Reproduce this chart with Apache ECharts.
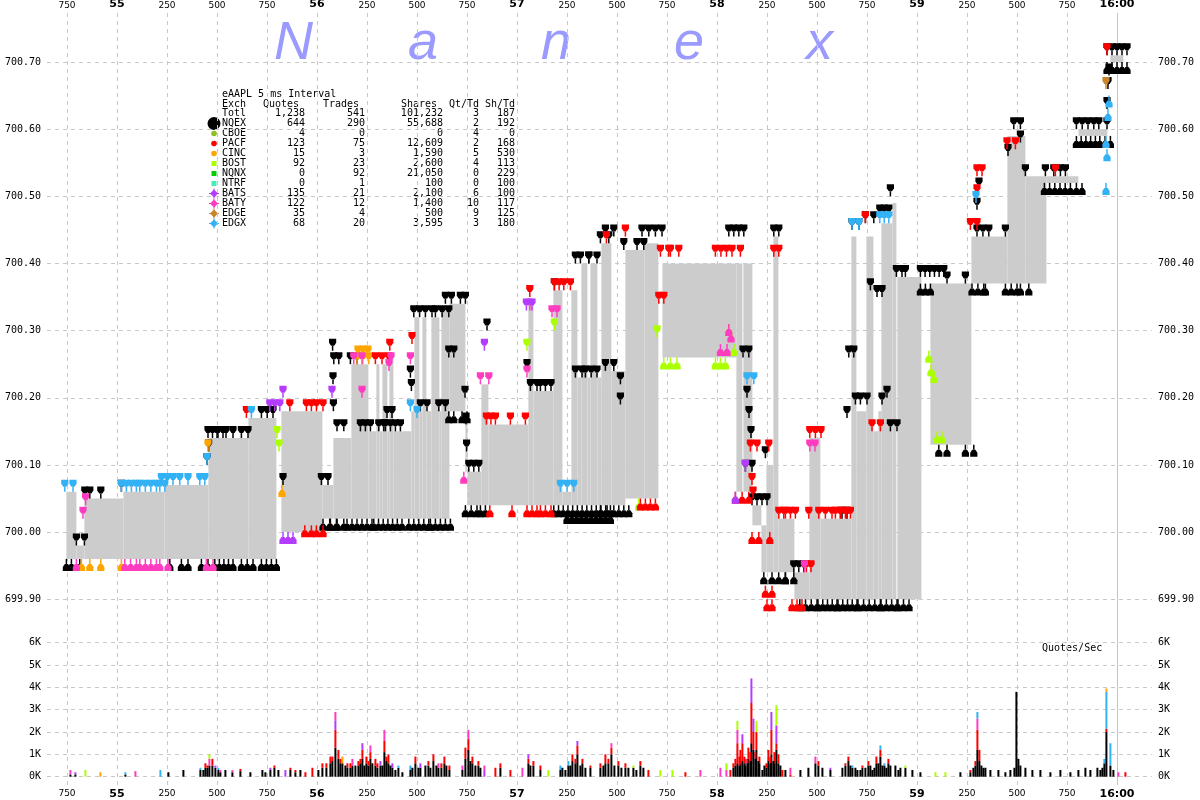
<!DOCTYPE html>
<html><head><meta charset="utf-8">
<script src="https://cdn.jsdelivr.net/npm/echarts@6.0.0/dist/echarts.min.js"></script>
<style>html,body{margin:0;padding:0;background:#fff}#c{width:1200px;height:800px}</style>
</head><body><div id="c"></div>
<script>
// ---- time axis (ms after 15:59:54.000) ----
const tickValues = [750,1000,1250,1500,1750,2000,2250,2500,2750,3000,3250,3500,3750,4000,4250,4500,4750,5000,5250,5500,5750,6000];
const tickLabels = ['750','55','250','500','750','56','250','500','750','57','250','500','750','58','250','500','750','59','250','500','750','16:00'];
const closeTick = [6000];

// ---- NBBO spread: [t0, t1, bid, ask] ----
const nbboSpans = [
 [747,797,699.96,700.06],[797,837,699.96,699.98],[837,1032,699.96,700.05],[1032,1237,699.96,700.06],
 [1237,1457,699.96,700.07],[1457,1657,699.96,700.14],[1657,1797,699.96,700.17],[1822,2027,700.00,700.18],
 [2027,2082,700.02,700.07],[2082,2172,700.02,700.14],[2172,2257,700.02,700.25],[2257,2297,700.02,700.15],
 [2297,2312,700.02,700.25],[2312,2327,700.02,700.15],[2327,2352,700.02,700.25],[2352,2362,700.02,700.15],
 [2362,2382,700.02,700.26],[2382,2472,700.02,700.15],[2472,2487,700.02,700.18],[2487,2512,700.02,700.32],
 [2512,2527,700.02,700.18],[2527,2547,700.02,700.32],[2547,2572,700.02,700.18],[2572,2612,700.02,700.32],
 [2612,2622,700.02,700.18],[2622,2662,700.02,700.33],[2662,2742,700.18,700.34],[2742,2752,700.09,700.16],
 [2752,2822,700.04,700.09],[2822,2857,700.04,700.22],[2857,3057,700.04,700.16],[3057,3082,700.04,700.34],
 [3082,3182,700.04,700.21],[3182,3227,700.04,700.36],[3227,3272,700.04,700.06],[3272,3302,700.04,700.36],
 [3302,3322,700.04,700.23],[3322,3352,700.04,700.40],[3352,3367,700.04,700.23],[3367,3402,700.04,700.40],
 [3402,3422,700.04,700.23],[3422,3472,700.04,700.43],[3472,3542,700.04,700.24],[3542,3637,700.05,700.42],
 [3637,3707,700.05,700.43],[3727,4097,700.26,700.40],[4097,4127,700.06,700.40],[4132,4177,700.06,700.40],
 [4177,4222,700.01,700.04],[4222,4247,699.94,700.01],[4247,4282,699.94,700.10],[4282,4307,699.94,700.44],
 [4307,4387,699.94,700.02],[4387,4462,699.90,699.94],[4462,4517,699.90,700.14],[4517,4672,699.90,700.02],
 [4672,4697,699.90,700.44],[4697,4747,699.90,700.18],[4747,4782,699.90,700.44],[4782,4807,699.90,700.15],
 [4807,4822,699.90,700.18],[4822,4877,699.90,700.46],[4877,4897,699.90,700.49],[4902,5022,699.90,700.38],
 [5067,5272,700.13,700.37],[5272,5452,700.37,700.44],[5452,5542,700.37,700.59],[5542,5647,700.37,700.53],
 [5647,5807,700.52,700.53],[5807,5952,700.59,700.60],[5967,6032,700.70,700.71]
];

// ---- exchange quotes: [t0, t1, price, side] side 1 = offer (above), -1 = bid (below) ----
const nqexQuotes = [
 [797,837,699.98,1],[839,864,700.05,1],[919,919,700.05,1],[1022,1022,700.06,1],
 [1450,1450,700.10,1],[1458,1458,700.12,1],[1455,1500,700.14,1],[1505,1530,700.14,1],[1545,1580,700.14,1],
 [1622,1622,700.14,1],[1655,1655,700.14,1],[1722,1780,700.17,1],[1830,1850,700.07,1],[2022,2055,700.07,1],
 [2078,2078,700.27,1],[2080,2080,700.22,1],[2082,2082,700.18,1],[2084,2109,700.25,1],[2100,2134,700.15,1],
 [2167,2200,700.25,1],[2217,2267,700.15,1],[2309,2334,700.15,1],[2342,2417,700.15,1],[2350,2375,700.17,1],
 [2467,2467,700.23,1],[2472,2472,700.21,1],[2484,2542,700.32,1],[2575,2575,700.32,1],[2592,2659,700.32,1],
 [2642,2659,700.34,1],[2672,2684,700.34,1],[2717,2742,700.34,1],[2517,2550,700.18,1],[2609,2617,700.18,1],
 [2642,2642,700.18,1],[2659,2684,700.26,1],[2740,2740,700.20,1],[2745,2745,700.16,1],[2748,2748,700.12,1],
 [2759,2809,700.09,1],[2850,2859,700.30,1],[3050,3055,700.24,1],[3067,3100,700.21,1],[3117,3142,700.21,1],
 [3170,3184,700.21,1],[3187,3205,700.36,1],[3292,3325,700.23,1],[3342,3400,700.23,1],[3292,3309,700.40,1],
 [3317,3359,700.40,1],[3359,3400,700.40,1],[3417,3459,700.43,1],[3442,3484,700.44,1],[3625,3659,700.44,1],
 [3692,3725,700.44,1],[4059,4134,700.44,1],[4284,4309,700.44,1],[3534,3550,700.42,1],[3600,3634,700.42,1],
 [3442,3484,700.24,1],[3517,3534,700.22,1],[3517,3517,700.19,1],[4130,4159,700.26,1],[4150,4150,700.20,1],
 [4160,4160,700.17,1],[4170,4170,700.14,1],[4142,4175,700.09,1],[4175,4250,700.04,1],[4242,4250,700.11,1],
 [4384,4434,699.94,1],[4625,4650,700.02,1],[4650,4667,700.17,1],[4692,4709,700.19,1],[4717,4750,700.19,1],
 [4659,4684,700.26,1],[4675,4709,700.45,1],[4742,4784,700.46,1],[4814,4859,700.47,1],[4867,4884,700.50,1],
 [4767,4775,700.36,1],[4800,4825,700.35,1],[4825,4842,700.19,1],[4850,4865,700.20,1],[4867,4900,700.15,1],
 [4897,4925,700.38,1],[4942,4959,700.38,1],[5017,5134,700.38,1],[5150,5167,700.37,1],[5242,5255,700.37,1],
 [5300,5359,700.44,1],[5442,5442,700.44,1],[5300,5317,700.48,1],[5310,5315,700.51,1],[5455,5465,700.56,1],
 [5484,5517,700.60,1],[5517,5530,700.58,1],[5542,5559,700.53,1],[5642,5684,700.53,1],[5717,5734,700.53,1],
 [5742,5759,700.53,1],[5797,5884,700.60,1],[5909,5950,700.60,1],[5950,5950,700.63,1],[5955,5955,700.66,1],
 [5960,5960,700.68,1],[5950,6050,700.71,1],
 [747,772,699.96,-1],[814,822,699.96,-1],[1264,1280,699.96,-1],[1322,1355,699.96,-1],[1422,1455,699.96,-1],
 [1489,1580,699.96,-1],[1622,1680,699.96,-1],[1722,1797,699.96,-1],[2030,2097,700.02,-1],[2067,2134,700.02,-1],
 [2150,2275,700.02,-1],[2284,2425,700.02,-1],[2459,2559,700.02,-1],[2567,2667,700.02,-1],[2659,2684,700.18,-1],
 [2725,2750,700.18,-1],[2742,2800,700.04,-1],[2817,2825,700.04,-1],[2842,2859,700.04,-1],[3184,3467,700.04,-1],
 [3250,3467,700.03,-1],[3417,3484,700.04,-1],[3509,3559,700.04,-1],[4234,4250,699.94,-1],[4275,4342,699.94,-1],
 [4342,4384,699.94,-1],[4414,4500,699.90,-1],[4505,4600,699.90,-1],[4605,4700,699.90,-1],[4705,4817,699.90,-1],
 [4820,4900,699.90,-1],[4905,4960,699.90,-1],[5017,5067,700.37,-1],[5109,5125,700.13,-1],[5150,5167,700.13,-1],
 [5242,5284,700.13,-1],[5275,5334,700.37,-1],[5342,5350,700.37,-1],[5442,5500,700.37,-1],[5517,5559,700.37,-1],
 [5637,5767,700.52,-1],[5797,5825,700.52,-1],[5797,5892,700.59,-1],[5914,5967,700.59,-1],[5950,6050,700.70,-1]
];
const pacfQuotes = [
 [1647,1664,700.17,1],[1864,1880,700.18,1],[1947,1972,700.18,1],[1997,2030,700.18,1],[2292,2309,700.25,1],
 [2325,2359,700.25,1],[2364,2380,700.27,1],[2475,2475,700.28,1],[2847,2892,700.16,1],[2967,2984,700.16,1],
 [3042,3059,700.16,1],[3064,3080,700.35,1],[3187,3234,700.36,1],[3267,3284,700.36,1],[3447,3459,700.43,1],
 [3542,3542,700.44,1],[3709,3734,700.34,1],[3717,3759,700.41,1],[3767,3809,700.41,1],[3992,4075,700.41,1],
 [4117,4134,700.41,1],[4284,4309,700.41,1],[4167,4200,700.12,1],[4259,4280,700.12,1],[4175,4175,700.07,1],
 [4180,4180,700.05,1],[4309,4334,700.02,1],[4342,4359,700.02,1],[4367,4392,700.02,1],[4459,4470,700.02,1],
 [4509,4575,700.02,1],[4592,4617,700.02,1],[4617,4650,700.02,1],[4642,4667,700.02,1],[4464,4520,700.14,1],
 [4447,4470,699.94,1],[4775,4817,700.15,1],[4742,4760,700.46,1],[5267,5300,700.45,1],[5300,5325,700.53,1],
 [5300,5310,700.50,1],[5450,5492,700.57,1],[5692,5709,700.53,1],[5950,5967,700.71,1],
 [1939,1972,700.01,-1],[1997,2030,700.01,-1],[2864,2884,700.04,-1],[2975,2975,700.04,-1],[3050,3100,700.04,-1],
 [3117,3142,700.04,-1],[3170,3184,700.04,-1],[3617,3667,700.05,-1],[3692,3704,700.05,-1],[4092,4159,700.06,-1],
 [4175,4209,700.00,-1],[4264,4280,700.00,-1],[4242,4275,699.92,-1],[4250,4275,699.90,-1],[4375,4425,699.90,-1]
];
const batsQuotes = [
 [1764,1814,700.18,1],[1830,1840,700.20,1],[2075,2075,700.20,1],[2837,2859,700.27,1],[3047,3075,700.33,1],
 [4142,4150,700.09,1],[1830,1880,700.00,-1],[4092,4095,700.06,-1]
];
const batyQuotes = [
 [843,855,700.04,1],[830,847,700.02,1],[2184,2225,700.25,1],[2225,2225,700.20,1],[2360,2372,700.24,1],
 [2370,2380,700.25,1],[2467,2484,700.25,1],[2817,2859,700.22,1],[3050,3064,700.23,1],[3064,3082,700.33,1],
 [3175,3200,700.32,1],[4437,4450,699.94,1],[4464,4490,700.12,1],
 [797,814,699.96,-1],[1039,1097,699.96,-1],[1114,1197,699.96,-1],[1214,1255,699.96,-1],[1447,1480,699.96,-1],
 [2734,2750,700.09,-1],[4017,4050,700.28,-1],[4059,4075,700.31,-1],[4070,4080,700.30,-1]
];
const edgxQuotes = [
 [739,780,700.06,1],[1022,1097,700.06,1],[1114,1197,700.06,1],[1214,1239,700.06,1],[1222,1280,700.07,1],
 [1314,1355,700.07,1],[1414,1439,700.07,1],[1450,1460,700.10,1],[1672,1672,700.17,1],[2467,2484,700.18,1],
 [2500,2517,700.17,1],[3217,3284,700.06,1],[4150,4184,700.22,1],[4675,4709,700.45,1],[4814,4859,700.46,1],
 [5295,5310,700.49,1],
 [5945,5955,700.52,-1],[5945,5965,700.59,-1],[5950,5965,700.57,-1],[5955,5965,700.63,-1],[5960,5968,700.65,-1]
];
const bostQuotes = [
 [1800,1805,700.14,1],[1810,1825,700.12,1],[3050,3064,700.27,1],[3187,3200,700.30,1],[3700,3717,700.29,1],
 [3609,3617,700.05,-1],[3734,3800,700.26,-1],[3992,4017,700.26,-1],[4042,4054,700.26,-1],[4059,4075,700.31,-1],
 [4085,4092,700.28,-1],[5059,5080,700.27,-1],[5070,5090,700.25,-1],[5085,5100,700.24,-1],[5100,5125,700.15,-1]
];
const cincQuotes = [
 [2200,2259,700.25,1],[2205,2255,700.26,1],[1455,1465,700.12,1],
 [822,864,699.96,-1],[919,919,699.96,-1],[1022,1039,699.96,-1],[1825,1835,700.07,-1]
];
const edgeQuotes = [[5945,5955,700.66,1]];

// ---- quotes per second, 5 ms buckets: [t, NQEX, PACF, BATS, BATY, EDGX, BOST, CINC] ----
const volColumns = ['NQEX','PACF','BATS','BATY','EDGX','BOST','CINC'];
const quoteRate = [
 [767,100,0,0,200,0,0,0],[792,100,0,100,0,0,0,0],[842,0,0,0,0,0,300,0],[917,0,0,0,0,0,0,200],
 [1042,100,0,0,0,100,0,0],[1092,0,0,0,250,0,0,0],[1217,0,0,0,0,300,0,0],[1257,200,0,0,0,0,0,0],
 [1332,300,0,0,0,0,0,0],[1417,300,0,0,0,100,0,0],[1442,400,200,0,0,0,0,0],[1462,500,0,0,300,0,200,0],
 [1477,500,300,0,0,0,0,0],[1492,400,0,100,0,0,0,0],[1507,300,0,0,0,100,0,0],[1542,300,0,0,0,0,0,0],
 [1577,200,0,0,100,0,0,0],[1617,250,100,0,0,0,0,0],[1667,200,0,0,0,0,0,0],[1727,300,0,0,0,0,0,0],
 [1767,300,0,100,0,0,0,0],[1787,400,100,0,0,0,0,0],[1842,0,0,300,0,0,0,0],[1867,300,100,0,0,0,0,0],
 [1917,300,0,0,0,0,0,0],[1977,0,400,0,0,0,0,0],[2027,400,200,0,0,0,0,0],[2067,600,300,0,0,0,0,0],
 [2092,1300,800,400,400,0,0,0],[2107,800,400,0,0,0,0,0],[2127,600,0,0,0,0,0,300],[2152,400,200,0,0,0,0,0],
 [2177,500,0,0,300,0,0,0],[2207,500,200,0,0,0,0,0],[2227,800,400,300,0,0,0,0],[2247,600,300,0,0,0,0,0],
 [2267,800,300,0,300,0,0,0],[2292,500,300,0,0,0,0,0],[2317,500,0,200,0,0,0,0],[2337,1100,500,0,500,0,0,0],
 [2357,600,400,0,0,0,0,0],[2377,400,0,200,0,0,0,0],[2407,400,0,0,0,100,0,0],[2467,300,0,0,0,200,0,0],
 [2492,600,300,0,0,0,0,0],[2517,400,0,200,0,0,0,0],[2557,500,200,0,0,0,0,0],[2582,700,300,0,0,0,0,0],
 [2607,400,0,0,200,0,0,0],[2637,600,300,0,0,0,0,0],[2662,300,200,0,0,0,0,0],[2727,300,0,0,200,0,0,0],
 [2742,800,500,0,0,0,0,0],[2757,1200,500,0,400,0,0,0],[2777,600,300,0,0,0,0,0],[2807,500,200,0,0,0,0,0],
 [2837,0,0,300,200,0,0,0],[2892,0,400,0,0,0,0,0],[2917,400,200,0,0,0,0,0],[2967,0,300,0,0,0,0,0],
 [3027,0,0,0,400,0,0,0],[3057,600,200,200,0,0,0,0],[3082,500,200,0,0,0,0,0],[3117,300,200,0,0,0,0,0],
 [3157,0,0,0,0,0,300,0],[3217,300,0,0,0,200,0,0],[3257,500,0,0,0,200,0,0],[3277,700,300,0,0,0,0,0],
 [3302,1000,400,200,0,0,0,0],[3327,600,200,0,0,0,0,0],[3367,400,100,0,0,0,0,0],[3417,400,200,0,0,0,0,0],
 [3442,600,400,0,0,0,0,0],[3472,1000,300,0,200,0,0,0],[3507,500,200,0,0,0,0,0],[3542,400,200,0,0,0,0,0],
 [3582,400,0,0,0,0,100,0],[3617,500,200,0,0,0,0,0],[3657,0,300,0,0,0,0,0],[3717,0,0,0,0,0,300,0],
 [3777,0,0,0,0,0,300,0],[3842,0,200,0,0,0,0,0],[3917,0,0,0,300,0,0,0],[4017,0,0,0,400,0,0,0],
 [4047,0,0,0,300,0,300,0],[4067,0,300,0,0,0,0,0],[4102,600,900,0,600,0,400,0],[4117,600,600,0,0,0,0,0],
 [4127,700,800,400,0,0,0,0],[4142,500,0,300,0,0,0,0],[4157,800,500,0,0,0,0,0],[4172,1500,1800,1100,0,0,0,0],
 [4182,1200,800,600,0,0,0,0],[4197,1200,800,0,0,0,500,0],[4212,600,300,0,0,0,0,0],[4227,300,0,0,0,0,0,0],
 [4247,400,200,0,0,0,0,0],[4257,700,500,0,0,0,0,0],[4272,1000,1100,800,0,0,0,0],[4287,600,500,0,0,0,0,0],
 [4297,1200,300,800,0,0,900,0],[4307,600,400,0,0,0,0,0],[4327,0,300,0,0,0,0,0],[4367,0,100,0,300,0,0,0],
 [4417,300,0,0,0,0,0,0],[4457,400,0,0,0,0,0,0],[4492,600,0,0,300,0,0,0],[4507,500,200,0,0,0,0,0],
 [4527,400,0,0,0,0,0,0],[4567,300,0,100,0,0,0,0],[4642,500,100,0,0,0,0,0],[4657,700,200,0,0,0,0,0],
 [4677,400,0,0,0,100,0,0],[4702,300,0,0,0,0,0,0],[4727,400,100,0,0,0,0,0],[4757,500,200,0,0,0,0,0],
 [4777,300,0,0,0,0,0,0],[4797,600,300,0,0,0,0,0],[4817,900,300,0,0,200,0,0],[4837,500,0,0,0,100,0,0],
 [4857,600,200,0,0,0,0,0],[4892,500,0,0,0,0,0,0],[4917,400,0,0,0,0,0,0],[4942,400,0,0,0,0,100,0],
 [4977,300,0,0,0,0,0,0],[5017,200,0,0,0,0,0,0],[5092,0,0,0,0,0,200,0],[5142,0,0,0,0,0,200,0],
 [5217,200,0,0,0,0,0,0],[5267,200,100,0,0,0,0,0],[5292,500,200,0,0,0,0,0],[5302,1200,900,0,500,300,0,0],
 [5312,700,500,0,0,0,0,0],[5342,400,0,0,0,0,0,0],[5367,300,0,0,0,0,0,0],[5407,300,0,0,0,0,0,0],
 [5442,200,0,0,0,0,0,0],[5467,300,0,0,0,0,0,0],[5497,3800,0,0,0,0,0,0],[5507,800,0,0,0,0,0,0],
 [5542,400,0,0,0,0,0,0],[5577,300,0,0,0,0,0,0],[5617,300,0,0,0,0,0,0],[5667,200,0,0,0,0,0,0],
 [5717,300,0,0,0,0,0,0],[5767,200,0,0,0,0,0,0],[5807,300,0,0,0,0,0,0],[5842,400,0,0,0,0,0,0],
 [5867,300,0,0,0,0,0,0],[5902,400,0,0,0,0,0,0],[5917,300,0,0,0,0,0,0],[5937,600,0,0,0,200,0,0],
 [5947,2000,150,0,0,1650,0,150],[5967,500,0,0,0,1000,0,0],[5982,300,0,0,0,0,0,0],[6007,0,0,0,200,0,0,0],
 [6042,0,200,0,0,0,0,0],
 [1432,300,0,0,0,0,0,0],[1452,400,100,0,0,0,0,0],[1517,200,0,0,100,0,0,0],[1742,200,0,0,0,0,0,0],
 [1807,300,0,0,0,0,0,0],[1892,200,100,0,0,0,0,0],[1942,0,200,0,0,0,0,0],[2007,300,0,0,0,0,0,0],
 [2047,400,200,0,0,0,0,0],[2077,700,200,0,0,0,0,0],[2117,600,200,0,0,0,0,0],[2142,500,0,0,0,0,0,0],
 [2167,400,200,0,0,0,0,0],[2192,500,0,0,0,0,0,0],[2217,600,200,0,0,0,0,0],[2237,500,0,0,0,0,0,0],
 [2257,500,200,0,0,0,0,0],[2277,600,0,0,0,0,0,0],[2302,400,200,0,0,0,0,0],[2327,500,0,0,0,0,0,0],
 [2347,700,200,0,0,0,0,0],[2367,500,0,0,0,0,0,0],[2392,300,0,0,0,0,0,0],[2427,200,0,0,0,0,0,0],
 [2477,400,0,0,0,0,0,0],[2507,400,0,0,0,0,0,0],[2542,500,0,0,0,0,0,0],[2567,400,0,0,0,0,0,0],
 [2597,500,0,0,0,0,0,0],[2622,400,200,0,0,0,0,0],[2647,500,0,0,0,0,0,0],[2767,700,0,0,0,0,0,0],
 [2792,500,0,0,0,0,0,0],[2817,400,0,0,0,0,0,0],[3067,500,0,0,0,0,0,0],[3227,400,0,0,0,0,0,0],
 [3242,300,0,0,0,0,0,0],[3267,500,0,0,0,0,0,0],[3292,600,200,0,0,0,0,0],[3317,500,0,0,0,0,0,0],
 [3342,400,0,0,0,0,0,0],[3432,500,0,0,0,0,0,0],[3457,600,200,0,0,0,0,0],[3487,500,0,0,0,0,0,0],
 [3522,400,0,0,0,0,0,0],[3557,400,0,0,0,0,0,0],[3597,300,0,0,0,0,0,0],[3632,400,0,0,0,0,0,0],
 [4082,400,200,0,0,0,0,0],[4092,500,300,0,0,0,0,0],[4112,500,400,0,0,0,0,0],[4137,600,300,0,0,0,0,0],
 [4152,600,200,0,0,0,0,0],[4167,700,400,0,0,0,0,0],[4192,800,300,0,0,0,0,0],[4207,700,0,0,0,0,0,0],
 [4237,500,0,0,0,0,0,0],[4267,600,300,0,0,0,0,0],[4282,700,0,0,0,0,0,0],[4317,500,0,0,0,0,0,0],
 [4342,300,0,0,0,0,0,0],[4627,400,0,0,0,0,0,0],[4667,500,0,0,0,0,0,0],[4692,400,0,0,0,0,0,0],
 [4717,300,0,0,0,0,0,0],[4742,400,0,0,0,0,0,0],[4767,500,0,0,0,0,0,0],[4787,400,0,0,0,0,0,0],
 [4807,600,0,0,0,0,0,0],[4827,500,0,0,0,0,0,0],[4847,400,0,0,0,0,0,0],[4867,500,0,0,0,0,0,0],
 [4907,300,0,0,0,0,0,0],[5282,400,0,0,0,0,0,0],[5322,500,0,0,0,0,0,0],[5332,400,0,0,0,0,0,0],
 [5487,400,0,0,0,0,0,0],[5517,500,0,0,0,0,0,0],[5927,400,0,0,0,0,0,0]
];

// ---- summary table ----
const exchNames = ['Totl','NQEX','CBOE','PACF','CINC','BOST','NQNX','NTRF','BATS','BATY','EDGE','EDGX'];
const exchQuotes = [1238,644,4,123,15,92,0,0,135,122,35,68];
const exchTrades = [541,290,0,75,3,23,92,1,21,12,4,20];
const exchShares = [101232,55688,0,12609,1590,2600,21050,100,2100,1400,500,3595];
const exchQtTd = [3,2,4,2,5,4,0,0,6,10,9,3];
const exchShTd = [187,192,0,168,530,113,229,100,100,117,125,180];
const exchColors = {NQEX:'#000000',CBOE:'#8dbf1f',PACF:'#ff0000',CINC:'#ffa500',BOST:'#aaff00',NQNX:'#00cc00',
  NTRF:'#44eebb',BATS:'#b43cff',BATY:'#ff3cc0',EDGE:'#c8862a',EDGX:'#33b1f5'};
const exchMarker = {NQEX:'big',CBOE:'circle',PACF:'circle',CINC:'circle',BOST:'square',NQNX:'square',NTRF:'square',
  BATS:'diamond',BATY:'diamond',EDGE:'diamond',EDGX:'diamond'};

const fmtNum = n => n.toLocaleString('en-US');
const mono = 'DejaVu Sans Mono';

function fmtTick(v){
  const i = tickValues.indexOf(Math.round(v));
  if (i < 0) return '';
  return (tickValues[i] % 1000 === 0 ? '{s|' : '{m|') + tickLabels[i] + '}';
}
const tickRich = {
  m:{fontFamily:'DejaVu Sans', fontSize:9, color:'#000'},
  s:{fontFamily:'DejaVu Sans', fontSize:11, fontWeight:'bold', color:'#000'}
};
const dash = {color:'#c8c8c8', width:1, type:[4,4]};

function pinRenderer(color){
  return function(params, api){
    const t0 = api.value(0), t1 = api.value(1), pr = api.value(2), side = api.value(3);
    const a = api.coord([t0, pr]), b = api.coord([t1, pr]);
    const y = a[1];
    const d = side > 0 ? -1 : 1;
    const ch = [];
    const span = b[0] - a[0];
    const n = Math.max(1, Math.floor(span / 4.5) + 1);
    const yA = y + d * 5, yB = y + d * 8, yC = y + d * 12;
    for (let i = 0; i < n; i++) {
      const sx = n === 1 ? a[0] : a[0] + span * i / (n - 1);
      ch.push({type:'rect', shape:{x:sx - 0.75, y: d > 0 ? y : y - 5, width:1.5, height:5}, style:{fill:color}});
      ch.push({type:'polygon', shape:{points:[[sx - 1.6, yA],[sx + 1.6, yA],[sx + 3.6, yB],[sx + 3.6, yC],[sx - 3.6, yC],[sx - 3.6, yB]]},
        style:{fill:color}});
    }
    return {type:'group', children:ch};
  };
}
function quoteSeries(name, data){
  return {type:'custom', name, xAxisIndex:0, yAxisIndex:0, clip:false, silent:true, z:3,
    data: data.map(r => r.slice()), encode:{x:[0,1], y:2}, renderItem: pinRenderer(exchColors[name])};
}
const volColors = volColumns.map(k => exchColors[k]);

// ---- graphic: watermark, table, note ----
const graphics = [];
const nanexLetters = ['N','a','n','e','x'];
const nanexX = [274, 408, 541, 674, 806];
nanexLetters.forEach((ch, i) => graphics.push({type:'text', left:nanexX[i], top:17, silent:true,
  style:{text:ch, fontFamily:'Liberation Sans', fontStyle:'italic', fontSize:54, fill:'#9a9aff'}}));
const tx = (x, y, s, align) => graphics.push({type:'text', x, y, silent:true,
  style:{text:s, fontFamily:mono, fontSize:10, fill:'#000', textAlign:align || 'left', textVerticalAlign:'middle'}});
tx(222, 94, 'eAAPL 5 ms Interval');
tx(222, 104, 'Exch'); tx(299, 104, 'Quotes', 'right'); tx(359, 104, 'Trades', 'right');
tx(437, 104, 'Shares', 'right'); tx(479, 104, 'Qt/Td', 'right'); tx(515, 104, 'Sh/Td', 'right');
exchNames.forEach((nm, i) => {
  const y = 113.5 + 10 * i;
  tx(222, y, nm); tx(305, y, fmtNum(exchQuotes[i]), 'right'); tx(365, y, fmtNum(exchTrades[i]), 'right');
  tx(443, y, fmtNum(exchShares[i]), 'right'); tx(479, y, fmtNum(exchQtTd[i]), 'right'); tx(515, y, fmtNum(exchShTd[i]), 'right');
  const m = exchMarker[nm], c = exchColors[nm];
  if (m === 'big') graphics.push({type:'circle', shape:{cx:214, cy:y, r:6.5}, style:{fill:c}, silent:true});
  else if (m === 'circle') graphics.push({type:'circle', shape:{cx:214, cy:y, r:2.8}, style:{fill:c}, silent:true});
  else if (m === 'square') graphics.push({type:'rect', shape:{x:211.5, y:y - 2.5, width:5, height:5}, style:{fill:c}, silent:true});
  else if (m === 'diamond') {
    graphics.push({type:'polygon', shape:{points:[[214,y-4],[218,y],[214,y+4],[210,y]]}, style:{fill:c}, silent:true});
    graphics.push({type:'rect', shape:{x:209, y:y - 0.5, width:10, height:1}, style:{fill:c}, silent:true});
    graphics.push({type:'rect', shape:{x:213.5, y:y - 5, width:1, height:10}, style:{fill:c}, silent:true});
  }
});
graphics.push({type:'text', x:1042, y:648, silent:true,
  style:{text:'Quotes/Sec', fontFamily:mono, fontSize:10, fill:'#000', textVerticalAlign:'middle'}});

const xBase = {type:'value', min:650, max:6175};
const priceBase = {type:'value', min:699.9, max:700.8, interval:0.1, axisLine:{show:false}, axisTick:{show:false},
  axisLabel:{formatter: v => v.toFixed(2), fontFamily:mono, fontSize:10, color:'#000', margin:6}};
const volBase = {type:'value', min:0, max:6000, interval:1000, axisLine:{show:false}, axisTick:{show:false},
  axisLabel:{formatter: v => (v / 1000) + 'K', fontFamily:mono, fontSize:10, color:'#000', margin:6}};

const option = {
  animation:false,
  backgroundColor:'#ffffff',
  grid:[
    {left:47, right:48, top:-5.1, height:604.3, outerBoundsMode:'none', containLabel:false},
    {left:47, right:48, top:642.7, height:134, outerBoundsMode:'none', containLabel:false},
    {left:47, right:48, top:13, height:772, outerBoundsMode:'none', containLabel:false}
  ],
  xAxis:[
    Object.assign({}, xBase, {gridIndex:0, show:false}),
    Object.assign({}, xBase, {gridIndex:1, show:false}),
    Object.assign({}, xBase, {gridIndex:2, position:'top', axisLine:{show:false},
      axisTick:{show:false, customValues:tickValues},
      axisLabel:{customValues:tickValues, formatter:fmtTick, rich:tickRich, margin:3},
      splitLine:{show:true, lineStyle:dash}}),
    Object.assign({}, xBase, {gridIndex:2, position:'bottom', axisLine:{show:false},
      axisTick:{show:false, customValues:tickValues},
      axisLabel:{customValues:tickValues, formatter:fmtTick, rich:tickRich, margin:4},
      splitLine:{show:false}}),
    Object.assign({}, xBase, {gridIndex:2, position:'top', axisLine:{show:false},
      axisTick:{show:false, customValues:closeTick},
      axisLabel:{show:false, customValues:closeTick},
      splitLine:{show:true, lineStyle:{color:'#c4c4c4', width:1, type:'solid'}}})
  ],
  yAxis:[
    Object.assign({}, priceBase, {gridIndex:0, position:'left', splitLine:{show:true, lineStyle:dash}}),
    Object.assign({}, priceBase, {gridIndex:0, position:'right', splitLine:{show:false}}),
    Object.assign({}, volBase, {gridIndex:1, position:'left', splitLine:{show:true, lineStyle:dash}}),
    Object.assign({}, volBase, {gridIndex:1, position:'right', splitLine:{show:false}}),
    {type:'value', gridIndex:2, min:0, max:1, show:false}
  ],
  graphic: graphics,
  series:[
    {type:'custom', name:'NBBO', xAxisIndex:0, yAxisIndex:0, silent:true, z:2,
      data: nbboSpans.map(r => r.slice()), encode:{x:[0,1], y:[2,3]},
      renderItem(params, api){
        const p0 = api.coord([api.value(0), api.value(3)]);
        const p1 = api.coord([api.value(1), api.value(2)]);
        return {type:'rect', shape:{x:p0[0], y:p0[1], width:p1[0] - p0[0], height:p1[1] - p0[1]}, style:{fill:'#cccccc'}};
      }},
    quoteSeries('NQEX', nqexQuotes),
    quoteSeries('CINC', cincQuotes),
    quoteSeries('BOST', bostQuotes),
    quoteSeries('PACF', pacfQuotes),
    quoteSeries('BATY', batyQuotes),
    quoteSeries('BATS', batsQuotes),
    quoteSeries('EDGE', edgeQuotes),
    quoteSeries('EDGX', edgxQuotes),
    {type:'custom', name:'Quotes/Sec', xAxisIndex:1, yAxisIndex:2, silent:true, z:3,
      data: quoteRate.map(r => r.slice()), encode:{x:0, y:1},
      renderItem(params, api){
        const t = api.value(0);
        const x = api.coord([t, 0])[0];
        let acc = 0; const ch = [];
        for (let k = 0; k < volColumns.length; k++) {
          const v = api.value(k + 1);
          if (!v) continue;
          const y0 = api.coord([t, acc])[1]; acc += v; const y1 = api.coord([t, acc])[1];
          ch.push({type:'rect', shape:{x:x - 1, y:y1, width:2, height:y0 - y1}, style:{fill:volColors[k]}});
        }
        return {type:'group', children:ch};
      }}
  ]
};
const chart = echarts.init(document.getElementById('c'));
chart.setOption(option);
</script>
</body></html>
